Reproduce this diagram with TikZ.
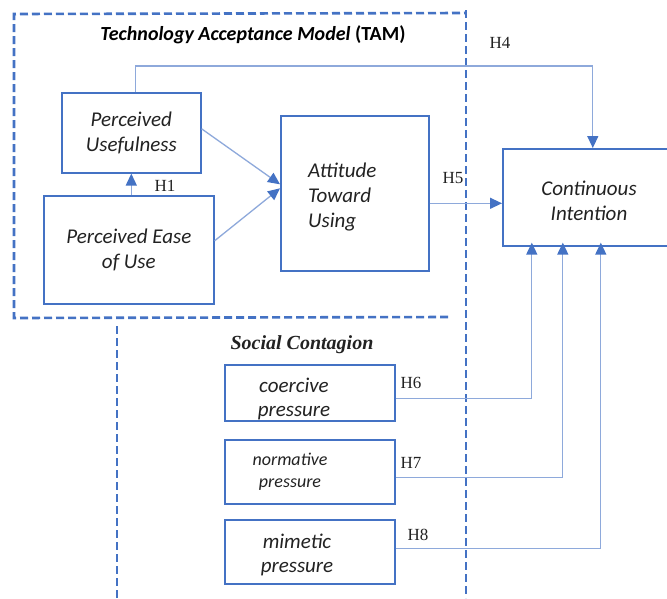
\documentclass[tikz,border=0pt]{standalone}
\usepackage{fontspec}
\setmainfont{Carlito}
\newfontfamily\tnr{Liberation Serif}
\usetikzlibrary{arrows.meta,calc}
\definecolor{boxblue}{HTML}{4472C4}
\definecolor{lineblue}{HTML}{8EA9DB}
\definecolor{txt}{HTML}{222222}
\tikzset{
  box/.style={draw=boxblue, line width=1.6pt, anchor=north west, inner sep=0pt, align=center, text=txt},
  boxtext/.style={font=\fontsize{21}{24}\selectfont\itshape, align=center, text=txt, inner sep=0pt},
  conn/.style={draw=lineblue, line width=1.3pt, -{Triangle[length=12pt,width=11pt,color=boxblue]}},
  hlab/.style={font=\tnr\fontsize{17}{19}\selectfont, text=txt, inner sep=0pt},
  dashbox/.style={draw=boxblue, line width=2.6pt, dash pattern=on 8pt off 4pt}
}
\begin{document}
\begin{tikzpicture}[x=1pt,y=-1pt]
\useasboundingbox (0,0) rectangle (667,598);
\clip (0,0) rectangle (667,598);
\fill[white] (0,0) rectangle (667,598);

% dashed frames
\draw[dashbox] (466,10) -- (466,598);
\draw[dashbox] (448,317) -- (14,318) -- (14,14) -- (466,13);
\draw[dashbox] (117,326) -- (117,598);

% title
\node[inner sep=0pt, text=black, font=\fontsize{20}{22}\selectfont] (title) at (253,35)
  {\textbf{\textit{Technology Acceptance Model}} \textbf{(TAM)}};

% boxes
\node[box, minimum width=139pt, minimum height=80pt, font=\fontsize{21}{25}\selectfont\itshape] (pu) at (61,92) {Perceived\\Usefulness};
\node[box, minimum width=170pt, minimum height=108pt, font=\fontsize{21}{25}\selectfont\itshape] (peu) at (43,195) {Perceived Ease\\of Use};
\node[box, minimum width=148pt, minimum height=155pt] (at) at (280,115) {};
\node[font=\fontsize{21}{25}\selectfont\itshape, align=left, text=txt, inner sep=0pt, anchor=west] (att) at (308,197) {Attitude\\Toward\\Using};
\node[box, minimum width=172pt, minimum height=97pt] (ci) at (502,148) {};
\node[font=\fontsize{21}{25}\selectfont\itshape, align=center, text=txt, inner sep=0pt] (cit) at (589,201) {Continuous\\Intention};

\node[font=\tnr\fontsize{20}{22}\selectfont\bfseries\itshape, inner sep=0pt, text=txt] (sc) at (302,345) {Social Contagion};

\node[box, minimum width=170pt, minimum height=56pt] (cp) at (224,364) {};
\node[box, minimum width=170pt, minimum height=64pt] (np) at (224,439) {};
\node[box, minimum width=170pt, minimum height=64pt] (mp) at (224,519) {};
\node[boxtext] (cpt) at (294,399) {coercive\\pressure};
\node[boxtext, font=\fontsize{18}{22}\selectfont\itshape] (npt) at (290,472) {normative\\pressure};
\node[boxtext] (mpt) at (297,555) {mimetic\\pressure};

% connectors
\draw[conn] (peu.north -| pu.south) -- (pu.south);
\draw[conn] ([yshift=4pt]pu.east) -- ([yshift=9pt]at.west);
\draw[conn] ([yshift=9pt]peu.east) -- ([yshift=5pt]at.west);
\draw[conn] ([xshift=4pt]pu.north) -- ++(0,-26) -| ([xshift=4pt]ci.north);
\draw[conn] ([yshift=-10pt]at.east) -- ([yshift=-10pt]at.east -| ci.west);
\draw[conn, shorten >=-4pt] ([yshift=-6pt]cp.east) -| ([xshift=-57pt]ci.south);
\draw[conn, shorten >=-4pt] ([yshift=-6pt]np.east) -| ([xshift=-26pt]ci.south);
\draw[conn, shorten >=-4pt] ([yshift=3pt]mp.east) -| ([xshift=12pt]ci.south);

% hypothesis labels
\node[hlab] (h1) at (165,186) {H1};
\node[hlab] (h4) at (500,43) {H4};
\node[hlab] (h5) at (453,178) {H5};
\node[hlab] (h6) at (411,383) {H6};
\node[hlab] (h7) at (411,463) {H7};
\node[hlab] (h8) at (418,535) {H8};
\end{tikzpicture}
\end{document}
